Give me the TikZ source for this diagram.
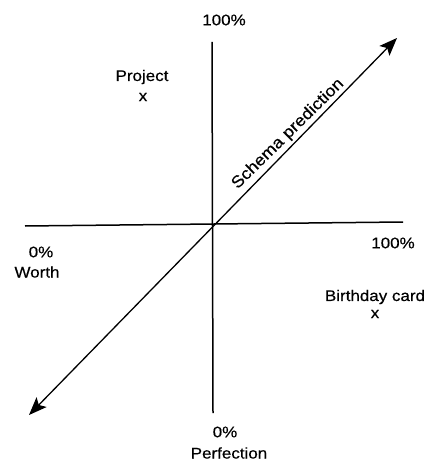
\documentclass[tikz,border=0pt]{standalone}
\usepackage{fontspec}
\setmainfont{Liberation Sans}[FakeStretch=1.1,FakeBold=0.4]
\usetikzlibrary{arrows.meta}
\begin{document}
\begin{tikzpicture}[x=1bp,y=-1bp,
  lbl/.style={inner sep=0pt,font=\fontsize{15.5}{17}\selectfont},
  axis/.style={line width=1.5bp},
  diag/.style={line width=1.3bp,{Stealth[length=18bp,width=14bp,inset=4bp]}-{Stealth[length=18bp,width=14bp,inset=4bp]}}]
\useasboundingbox (0,0) rectangle (430,462);
\coordinate (vt) at (212,42);
\coordinate (vb) at (213,413);
\coordinate (hl) at (25,226);
\coordinate (hr) at (403,222);
\coordinate (dl) at (29,415);
\coordinate (du) at (397,38);
\draw[axis] (vt) -- (vb);
\draw[axis] (hl) -- (hr);
\draw[diag] (dl) -- (du);
\node[lbl] (top) at (224,20) {100\%};
\node[lbl] (proj) at (142,77) {Project};
\node[lbl] (projx) at (143,97) {x};
\node[lbl,rotate=44.5] (schema) at (288,134) {\fontsize{16.5}{18}\selectfont Schema prediction};
\node[lbl] (lzero) at (41,252) {0\%};
\node[lbl] (worth) at (37,272) {Worth};
\node[lbl] (rhund) at (393,243) {100\%};
\node[lbl] (bday) at (375,297) {Birthday card};
\node[lbl] (bdayx) at (375,314) {x};
\node[lbl] (bzero) at (225,432) {0\%};
\node[lbl] (perf) at (229,453) {Perfection};
\end{tikzpicture}
\end{document}
